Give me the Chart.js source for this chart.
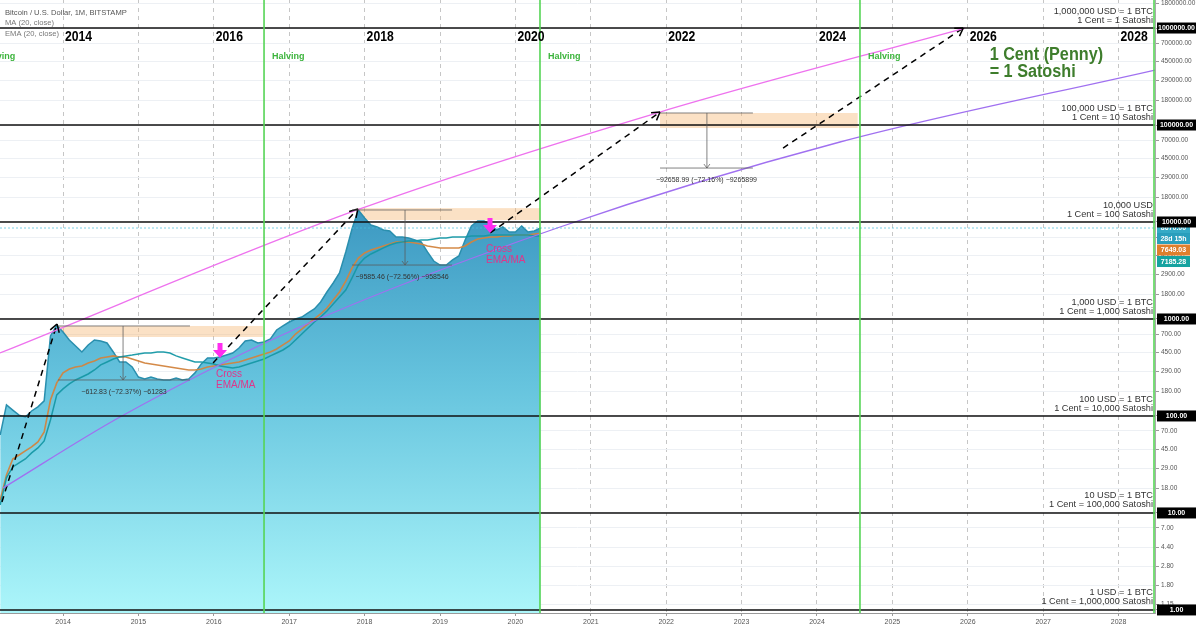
<!DOCTYPE html>
<html>
<head>
<meta charset="utf-8">
<script src="https://cdn.jsdelivr.net/npm/chart.js@4.4.1/dist/chart.umd.min.js"></script>
<style>
  html, body { margin: 0; background: #fff; }
  canvas { display: block; }
</style>
</head>
<body>
<canvas id="chart" width="1200" height="630"></canvas>
<script>
// monthly closes, Mar 2013 .. May 2020
const price = [
  63.7, 130, 115, 102, 97.7, 112.6, 124, 143, 668, 860,
  734, 607, 527, 457, 540, 607, 593, 566, 457, 360, 360, 320,
  252, 241, 252, 241, 235, 235, 246, 235, 241, 278, 344, 396,
  396, 406, 425, 446, 502, 593, 607, 566, 579, 622, 770, 847,
  931, 1000, 1048, 1153, 1268, 1497, 1897, 2350, 2980, 4900, 8500, 13300,
  11000, 9310, 8880, 8270, 8080, 7000, 7000, 6840, 6520, 6220, 4910, 3960,
  3600, 3600, 4060, 4460, 6520, 9100, 10240, 10240, 9530, 8270, 8880, 7880,
  7880, 9100, 7880, 8080, 8670
];
const ema20 = [
  13.6, 24.6, 36.0, 39.6, 43.6, 47.9, 54.0, 68.4, 146, 219,
  278, 305, 320, 328, 352, 369, 396, 406, 416, 406, 406, 387,
  369, 352, 344, 336, 328, 320, 312, 305, 298, 298, 305, 320,
  328, 336, 344, 352, 360, 378, 396, 416, 436, 457, 491, 540,
  593, 700, 788, 888, 1000, 1126, 1298, 1570, 1897, 2460, 3360, 4250,
  4790, 5140, 5400, 5660, 5930, 6220, 6220, 6220, 6070, 5930, 5660, 5530,
  5400, 5400, 5400, 5400, 5660, 6220, 6680, 6840, 7000, 7000, 7170, 7170,
  7340, 7340, 7340, 7520, 7649.03
];
const ma20 = [
  12.1, 23.0, 29.8, 32.8, 36.0, 41.6, 46.8, 55.3, 91.0, 165,
  190, 214, 235, 252, 271, 298, 336, 360, 387, 406, 416, 425,
  436, 446, 446, 457, 457, 446, 416, 396, 378, 360, 360, 352,
  344, 328, 320, 312, 320, 336, 352, 369, 387, 416, 446, 479,
  527, 607, 700, 808, 931, 1048, 1209, 1428, 1686, 1990, 2650, 3600,
  4250, 4680, 5020, 5400, 5790, 6070, 6220, 6370, 6370, 6520, 6520, 6680,
  6840, 6840, 7000, 7000, 7000, 7170, 7170, 7170, 7340, 7340, 7340, 7340,
  7340, 7340, 7340, 7170, 7185.28
];

// month positions as decimal years
const months = [];
for (let i = 0; i < price.length; i++) {
  const m = 2 + i;
  months.push(2013 + Math.floor(m / 12) + (m % 12) / 12);
}

// drawings (time in decimal years, price in USD)
const upperCurve = [[2013.164, 446], [2017.899, 13300], [2021.918, 136000], [2025.963, 1000000]];
const lowerCurve = [[2013.204, 18.1], [2014.756, 97.7], [2017.143, 827], [2020.592, 8880], [2024.305, 66800], [2028.483, 369000]];
const arrows = [
  [[2013.19, 13.0], [2013.92, 888]],
  [[2015.99, 352], [2017.91, 13600]],
  [[2019.666, 7710], [2021.918, 136000]],
  [[2023.55, 57900], [2025.94, 1000000]]
];
const peachBoxes = [
  { from: 2013.92, to: 2016.65, low: 652, high: 847 },
  { from: 2017.90, to: 2020.33, low: 10490, high: 13900 },
  { from: 2021.918, to: 2024.54, low: 93100, high: 133000 }
];
const measures = [
  { from: 2013.934, to: 2015.684, mid: 2014.796, high: 847, low: 235, text: '\u2212612.83 (\u221272.37%) \u221261283' },
  { from: 2017.833, to: 2019.16, mid: 2018.536, high: 13300, low: 3600, text: '\u22129585.46 (\u221272.56%) \u2212958546' },
  { from: 2021.918, to: 2023.15, mid: 2022.54, high: 133000, low: 36000, text: '\u221292658.99 (\u221272.16%) \u22129265899' }
];
const crosses = [[2016.082, 396], [2019.663, 7710]];
const halvings = [2012.83, 2016.666, 2020.326, 2024.57, 2028.47];
const topYears = [2014, 2016, 2018, 2020, 2022, 2024, 2026, 2028];
const rateLines = [
  [1000000, '1,000,000 USD = 1 BTC', '1 Cent = 1 Satoshi'],
  [100000, '100,000 USD = 1 BTC', '1 Cent = 10 Satoshi'],
  [10000, '10,000 USD', '1 Cent = 100 Satoshi'],
  [1000, '1,000 USD = 1 BTC', '1 Cent = 1,000 Satoshi'],
  [100, '100 USD = 1 BTC', '1 Cent = 10,000 Satoshi'],
  [10, '10 USD = 1 BTC', '1 Cent = 100,000 Satoshi'],
  [1, '1 USD = 1 BTC', '1 Cent = 1,000,000 Satoshi']
];
const yearTicks = [2014, 2015, 2016, 2017, 2018, 2019, 2020, 2021, 2022, 2023, 2024, 2025, 2026, 2027, 2028];
const priceTicks = [1, 1.15, 1.8, 2.8, 4.4, 7, 10, 18, 29, 45, 70, 100, 180, 290, 450, 700, 1000, 1800, 2900, 4500, 7000,
  10000, 18000, 29000, 45000, 70000, 100000, 180000, 290000, 450000, 700000, 1000000, 1800000];
const xRange = [2013.164, 2028.483];
const yRange = [0.93, 1945000];

const FONT = '"Liberation Sans", Arial, sans-serif';

function txt(ctx, s, x, y, font, color, align, sx) {
  ctx.save();
  ctx.font = font;
  ctx.fillStyle = color;
  ctx.textAlign = align || 'left';
  ctx.textBaseline = 'middle';
  ctx.translate(x, y);
  if (sx) ctx.scale(sx, 1);
  ctx.fillText(s, 0, 0);
  ctx.restore();
}
function seg(ctx, x0, y0, x1, y1) {
  ctx.beginPath(); ctx.moveTo(x0, y0); ctx.lineTo(x1, y1); ctx.stroke();
}

const overlay = {
  id: 'overlay',
  beforeDatasetsDraw(chart) {
    const { ctx, scales: { x, y } } = chart;
    ctx.save();
    ctx.fillStyle = 'rgba(245, 180, 110, 0.4)';
    for (const b of peachBoxes) {
      const x0 = x.getPixelForValue(b.from), x1 = x.getPixelForValue(b.to);
      const y0 = y.getPixelForValue(b.high), y1 = y.getPixelForValue(b.low);
      ctx.fillRect(x0, y0, x1 - x0, y1 - y0);
    }
    ctx.restore();
  },
  afterDatasetsDraw(chart) {
    const { ctx, chartArea: a, scales: { x, y } } = chart;
    const X = v => x.getPixelForValue(v), Y = v => y.getPixelForValue(v);
    ctx.save();
    ctx.beginPath(); ctx.rect(a.left, a.top, a.right - a.left, a.bottom - a.top); ctx.clip();

    // last price line
    const lastY = Y(price[price.length - 1]);
    ctx.strokeStyle = 'rgba(70, 190, 220, 0.7)'; ctx.lineWidth = 1; ctx.setLineDash([2, 2]);
    seg(ctx, a.left, lastY, a.right, lastY);
    ctx.setLineDash([]);

    // 1 cent = n satoshi lines
    ctx.strokeStyle = '#111'; ctx.lineWidth = 1.6;
    for (const r of rateLines) { const py = Y(r[0]); seg(ctx, a.left, py, a.right, py); }

    // halvings
    ctx.strokeStyle = '#55d455'; ctx.lineWidth = 1.6;
    for (const h of halvings) {
      const px = X(h);
      seg(ctx, px, a.top, px, a.bottom);
      txt(ctx, 'Halving', px + 8, a.top + 57, 'bold 9px ' + FONT, '#3cb43c');
    }

    // arrow heads of the dashed projections
    ctx.strokeStyle = '#000'; ctx.lineWidth = 1.5;
    for (const ar of arrows) {
      const [p0, p1] = ar;
      const x0 = X(p0[0]), y0 = Y(p0[1]), x1 = X(p1[0]), y1 = Y(p1[1]);
      const ang = Math.atan2(y1 - y0, x1 - x0);
      for (const d of [-0.55, 0.55]) {
        seg(ctx, x1, y1, x1 - 9 * Math.cos(ang + d), y1 - 9 * Math.sin(ang + d));
      }
    }

    // measures
    ctx.strokeStyle = 'rgba(90, 90, 90, 0.75)'; ctx.lineWidth = 1;
    for (const m of measures) {
      const x0 = X(m.from), x1 = X(m.to), xm = X(m.mid);
      const yt = Y(m.high), yb = Y(m.low);
      seg(ctx, x0, yt, x1, yt);
      seg(ctx, x0, yb, x1, yb);
      seg(ctx, xm, yt, xm, yb);
      seg(ctx, xm - 3, yb - 4, xm, yb);
      seg(ctx, xm + 3, yb - 4, xm, yb);
      txt(ctx, m.text, (x0 + x1) / 2, yb + 12, '7px ' + FONT, '#333', 'center');
    }

    // EMA/MA cross markers
    for (const c of crosses) {
      const cx = X(c[0]), tip = Y(c[1]);
      ctx.fillStyle = '#ff2cf0';
      ctx.beginPath();
      ctx.moveTo(cx - 2.5, tip - 15); ctx.lineTo(cx + 2.5, tip - 15);
      ctx.lineTo(cx + 2.5, tip - 8); ctx.lineTo(cx + 7, tip - 8);
      ctx.lineTo(cx, tip); ctx.lineTo(cx - 7, tip - 8);
      ctx.lineTo(cx - 2.5, tip - 8); ctx.closePath(); ctx.fill();
      txt(ctx, 'Cross', cx - 4, tip + 16, '10px ' + FONT, '#e0358a');
      txt(ctx, 'EMA/MA', cx - 4, tip + 27, '10px ' + FONT, '#e0358a');
    }

    // year labels under the 1,000,000 line
    const topY = Y(1000000);
    for (const yr of topYears) {
      txt(ctx, String(yr), X(yr) + 2, topY + 9, 'bold 14px ' + FONT, '#000', 'left', 0.87);
    }

    // rate labels
    for (const r of rateLines) {
      const py = Y(r[0]);
      txt(ctx, r[1], a.right - 2, py - 17, '9.2px ' + FONT, '#333', 'right');
      txt(ctx, r[2], a.right - 2, py - 8, '9.2px ' + FONT, '#333', 'right');
    }

    // penny note
    txt(ctx, '1 Cent (Penny)', X(2026.29), topY + 27, 'bold 18px ' + FONT, '#3e7d2c', 'left', 0.9);
    txt(ctx, '= 1 Satoshi', X(2026.29), topY + 44, 'bold 18px ' + FONT, '#3e7d2c', 'left', 0.9);

    // header
    txt(ctx, 'Bitcoin / U.S. Dollar, 1M, BITSTAMP', a.left + 5, a.top + 12.5, '7.6px ' + FONT, '#555');
    txt(ctx, 'MA (20, close)', a.left + 5, a.top + 23, '7.6px ' + FONT, '#777');
    txt(ctx, 'EMA (20, close)', a.left + 5, a.top + 34, '7.6px ' + FONT, '#777');
    ctx.restore();
  },
  afterDraw(chart) {
    const { ctx, chartArea: a, scales: { y } } = chart;
    const box = (yc, w, bg, s) => {
      ctx.fillStyle = bg;
      ctx.fillRect(a.right + 2, yc - 5.5, w, 11);
      txt(ctx, s, a.right + 2 + w / 2, yc + 0.5, 'bold 7px ' + FONT, '#fff', 'center');
    };
    ctx.save();
    // last values, stacked like the trading view labels
    const lastP = price[price.length - 1];
    let py = y.getPixelForValue(lastP);
    box(py, 33, '#35aac6', lastP.toFixed(2));
    box(py + 10.5, 33, '#2a9fbd', '28d 15h');
    let ey = Math.max(y.getPixelForValue(ema20[ema20.length - 1]), py + 22);
    box(ey, 33, '#e07f2c', ema20[ema20.length - 1].toFixed(2));
    let my = Math.max(y.getPixelForValue(ma20[ma20.length - 1]), ey + 11.5);
    box(my, 33, '#16a3a0', ma20[ma20.length - 1].toFixed(2));
    for (const r of rateLines) box(y.getPixelForValue(r[0]), 39, '#000', r[0].toFixed(2));
    ctx.restore();
  }
};

const toXY = (xs, ys) => xs.map((t, i) => ({ x: t, y: ys[i] }));
const pts = arr => arr.map(p => ({ x: p[0], y: p[1] }));

new Chart(document.getElementById('chart'), {
  type: 'line',
  data: {
    datasets: [
      { label: 'MA (20, close)', data: toXY(months, ma20), borderColor: 'rgba(22, 152, 165, 0.95)', borderWidth: 1.5, order: 1 },
      { label: 'EMA (20, close)', data: toXY(months, ema20), borderColor: 'rgba(210, 132, 62, 0.95)', borderWidth: 1.6, order: 1 },
      { label: 'upper', data: pts(upperCurve), borderColor: '#ee72ee', borderWidth: 1.3, cubicInterpolationMode: 'monotone', order: 0 },
      { label: 'lower', data: pts(lowerCurve), borderColor: '#a070f0', borderWidth: 1.3, cubicInterpolationMode: 'monotone', order: 0 },
      ...arrows.map(ar => ({ label: 'proj', data: pts(ar), borderColor: '#000', borderWidth: 1.5, borderDash: [6, 5], order: 0 })),
      {
        label: 'BTCUSD', data: toXY(months, price), fill: 'start', order: 5,
        borderColor: '#2a8fae', borderWidth: 1.5,
        backgroundColor: c => {
          const a = c.chart.chartArea;
          if (!a) return 'rgba(100,200,220,0.6)';
          const g = c.chart.ctx.createLinearGradient(0, a.top + 200, 0, a.bottom);
          g.addColorStop(0, 'rgb(58, 150, 192)');
          g.addColorStop(0.45, 'rgb(102, 196, 222)');
          g.addColorStop(1, 'rgb(172, 246, 250)');
          return g;
        }
      }
    ]
  },
  options: {
    responsive: false,
    animation: false,
    devicePixelRatio: 1,
    layout: { padding: 0 },
    elements: { point: { radius: 0 }, line: { tension: 0 } },
    plugins: { legend: { display: false }, tooltip: { enabled: false } },
    scales: {
      x: {
        type: 'linear', min: xRange[0], max: xRange[1],
        afterBuildTicks: s => { s.ticks = yearTicks.map(v => ({ value: v })); },
        afterFit: s => { s.height = 17; s.paddingLeft = 0; s.paddingRight = 0; },
        ticks: { autoSkip: false, maxRotation: 0, padding: 2, color: '#555', font: { size: 7, family: FONT }, callback: v => String(v) },
        grid: { color: '#c6c6c6', tickLength: 3, tickColor: '#999' },
        border: { color: '#999', dash: [4, 4] }
      },
      y: {
        type: 'logarithmic', position: 'right', min: yRange[0], max: yRange[1],
        afterBuildTicks: s => { s.ticks = priceTicks.map(v => ({ value: v })); },
        afterFit: s => { s.width = 45; s.paddingTop = 0; s.paddingBottom = 0; },
        ticks: { autoSkip: false, padding: 2, color: '#555', font: { size: 6.5, family: FONT }, callback: v => Number(v).toFixed(2) },
        grid: { color: '#edf0f4', tickLength: 4, tickColor: '#999' },
        border: { color: '#aaa' }
      }
    }
  },
  plugins: [overlay]
});
</script>
</body>
</html>
